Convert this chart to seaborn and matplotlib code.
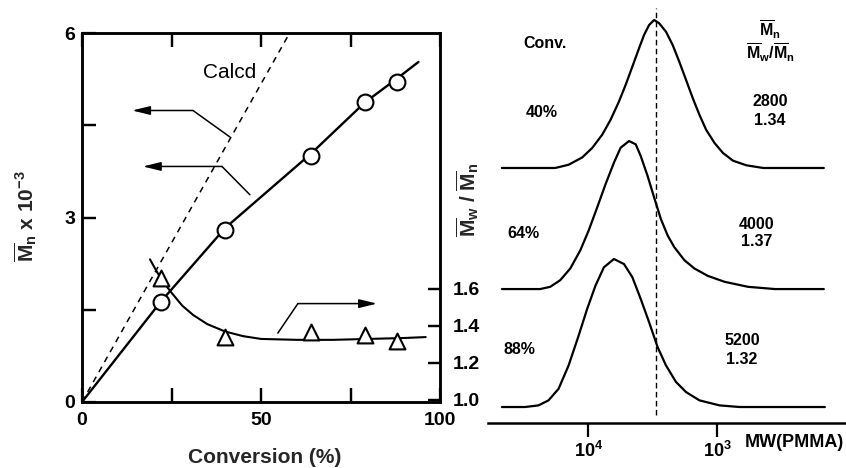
import numpy as np
import pandas as pd
import seaborn as sns
import matplotlib.pyplot as plt
from matplotlib.ticker import NullLocator

# ---------------- data ----------------
# Mn and Mw/Mn against monomer conversion
conv_pts = [22, 40, 64, 79, 88]
mn_pts = [1630, 2800, 4000, 4870, 5200]
pdi_pts = [1.66, 1.34, 1.37, 1.35, 1.32]

# drawn trend lines
mn_fit_conv = [0, 22, 40, 64, 79, 88, 94]
mn_fit = [0, 1630, 2830, 4040, 4870, 5260, 5530]
pdi_fit_conv = [19, 21, 23, 25, 28, 31, 35, 40, 45, 50, 60, 70, 80, 90, 96]
pdi_fit = [1.76, 1.69, 1.63, 1.58, 1.51, 1.46, 1.41, 1.37, 1.345, 1.33,
           1.325, 1.325, 1.33, 1.335, 1.34]

# calculated Mn line
calcd_conv = [0, 58]
calcd_mn = [0, 6000]

# axis ticks and labels
conv_ticks = [0, 25, 50, 75, 100]
conv_ticklabels = ["0", "", "50", "", "100"]
mn_ticks = [0, 1.5, 3, 4.5, 6]
mn_ticklabels = ["0", "", "3", "", "6"]
pdi_ticks = [1.0, 1.2, 1.4, 1.6]
pdi_ticklabels = ["1.0", "1.2", "1.4", "1.6"]
mw_ticks = [1e4, 1e3]
mw_ticklabels = [r"$10^4$", r"$10^3$"]

# GPC traces (log10 MW, normalised detector response)
gpc_conv = [40, 64, 88]
gpc_mn = [2800, 4000, 5200]
gpc_pdi = [1.34, 1.37, 1.32]

logmw_40 = [4.672, 4.258, 4.154, 4.049, 3.971, 3.893, 3.828, 3.763, 3.711, 3.659,
            3.607, 3.568, 3.529, 3.490, 3.451, 3.398, 3.346, 3.295, 3.242, 3.190,
            3.138, 3.086, 3.021, 2.955, 2.877, 2.773, 2.643, 2.172]
resp_40 = [0, 0, 0.022, 0.071, 0.135, 0.225, 0.326, 0.449, 0.562, 0.685,
           0.809, 0.899, 0.966, 1.0, 0.978, 0.921, 0.831, 0.719, 0.595, 0.472,
           0.359, 0.258, 0.169, 0.101, 0.049, 0.018, 0, 0]

logmw_64 = [4.672, 4.375, 4.297, 4.219, 4.141, 4.063, 3.998, 3.932, 3.867, 3.802,
            3.750, 3.685, 3.633, 3.594, 3.541, 3.490, 3.438, 3.385, 3.334, 3.255,
            3.177, 3.073, 2.943, 2.760, 2.552, 2.172]
resp_64 = [0, 0, 0.015, 0.060, 0.139, 0.262, 0.396, 0.552, 0.709, 0.854,
           0.955, 1.0, 0.978, 0.899, 0.765, 0.619, 0.474, 0.362, 0.284, 0.195,
           0.139, 0.089, 0.049, 0.015, 0, 0]

logmw_88 = [4.672, 4.492, 4.388, 4.310, 4.232, 4.154, 4.076, 4.010, 3.945, 3.880,
            3.802, 3.724, 3.659, 3.594, 3.529, 3.463, 3.398, 3.320, 3.242, 3.138,
            2.982, 2.826, 2.164]
resp_88 = [0, 0, 0.011, 0.045, 0.123, 0.281, 0.483, 0.663, 0.821, 0.944,
           1.0, 0.966, 0.877, 0.730, 0.573, 0.405, 0.281, 0.169, 0.101, 0.045,
           0.011, 0, 0]

ref_mw = 3000  # dashed reference line

# ---------------- style ----------------
sns.set_theme(style="ticks")
plt.rcParams["font.family"] = ["Liberation Sans", "DejaVu Sans"]
plt.rcParams["font.weight"] = "bold"
plt.rcParams["mathtext.fontset"] = "custom"
plt.rcParams["mathtext.rm"] = "Liberation Sans:bold"
plt.rcParams["mathtext.it"] = "Liberation Sans:bold"
plt.rcParams["mathtext.bf"] = "Liberation Sans:bold"
plt.rcParams["mathtext.sf"] = "Liberation Sans:bold"
plt.rcParams["xtick.color"] = "black"
plt.rcParams["ytick.color"] = "black"
plt.rcParams["text.color"] = "black"
plt.rcParams["axes.axisbelow"] = False

W, H = 846, 468
fig = plt.figure(figsize=(W / 100, H / 100), dpi=100)
ax = fig.add_axes([82 / W, 1 - 402 / H, 358 / W, 369 / H])
ax2 = ax.twinx()


def style_left_ticks():
    ax.tick_params(axis="x", which="major", direction="in", top=True, bottom=True,
                   length=10, width=1.6, labelsize=14, pad=7, color="black")
    ax.tick_params(axis="y", which="major", direction="in", left=True, right=False,
                   length=10, width=1.6, labelsize=14, pad=5, color="black")
    ax2.tick_params(axis="y", which="major", direction="in", right=True, left=False,
                    length=9, width=1.6, labelsize=14, pad=9, color="black")


ax.set_xlim(0, 100)
ax.set_ylim(0, 6)
ax.set_xticks(conv_ticks)
style_left_ticks()

# ---------------- left panel ----------------
sns.lineplot(x=mn_fit_conv, y=[v / 1000 for v in mn_fit], ax=ax, color="black",
             lw=1.7, estimator=None, sort=False, zorder=2)
sns.lineplot(x=calcd_conv, y=[v / 1000 for v in calcd_mn], ax=ax, color="black",
             lw=1.1, estimator=None, sort=False, zorder=2)
ax.lines[-1].set_linestyle((0, (4, 3.5)))
sns.scatterplot(x=conv_pts, y=[v / 1000 for v in mn_pts], ax=ax, marker="o", s=130,
                facecolor="white", edgecolor="black", linewidth=1.5, zorder=4)

sns.lineplot(x=pdi_fit_conv, y=pdi_fit, ax=ax2, color="black", lw=1.5,
             estimator=None, sort=False, zorder=2)
sns.scatterplot(x=conv_pts, y=pdi_pts, ax=ax2, marker="^", s=130, facecolor="white",
                edgecolor="black", linewidth=1.5, zorder=4)

ax.set_xlim(0, 100)
ax.set_ylim(0, 6)
ax.set_xticks(conv_ticks)
ax.set_xticklabels(conv_ticklabels)
ax.set_yticks(mn_ticks)
ax.set_yticklabels(mn_ticklabels)

ax2.set_ylim(0.989, 2.984)
ax2.set_yticks(pdi_ticks)
ax2.set_yticklabels(pdi_ticklabels)

for a in (ax, ax2):
    for sp in a.spines.values():
        sp.set_linewidth(1.8)
        sp.set_color("black")

# inward tick marks along the frame, placed at the tick positions
tick_kw = dict(colors="black", lw=1.6, clip_on=False, zorder=5)
xt = ax.get_xaxis_transform()
ax.vlines(conv_ticks[1:-1], 0, 0.038, transform=xt, **tick_kw)
ax.vlines(conv_ticks[1:-1], 0.962, 1, transform=xt, **tick_kw)
ax.hlines(mn_ticks[1:-1], 0, 0.039, transform=ax.get_yaxis_transform(), **tick_kw)
ax2.hlines(pdi_ticks, 0.966, 1, transform=ax2.get_yaxis_transform(), **tick_kw)

ax.set_xlabel("Conversion (%)", fontsize=15, fontweight="bold")
ax.xaxis.set_label_coords(0.511, -0.125)
ax.set_ylabel(r"$\overline{M}_n$ x 10$^{-3}$", fontsize=15, fontweight="bold")
ax.yaxis.set_label_coords(-0.12, 0.504)
ax2.set_ylabel(r"$\overline{M}_w$ / $\overline{M}_n$", fontsize=15, fontweight="bold")
ax2.yaxis.set_label_coords(1.042, 0.547)

ax.text(41.1, 5.35, "Calcd", ha="center", va="center", fontsize=15,
        fontweight="normal")

# elbow arrows pointing at the relevant axis
arrow_style = dict(arrowstyle="-|>,head_length=0.9,head_width=0.22",
                   color="black", lw=1.1, shrinkA=0, shrinkB=0)
for start, elbow, head in [((41.3, 4.31), (31.0, 4.74), (14.0, 4.74)),
                           ((46.9, 3.37), (39.1, 3.83), (17.0, 3.83)),
                           ((54.7, 1.12), (60.3, 1.60), (82.4, 1.60))]:
    ax.plot([start[0], elbow[0]], [start[1], elbow[1]], color="black", lw=1.1)
    ax.annotate("", xy=head, xytext=elbow, arrowprops=arrow_style)
style_left_ticks()

# ---------------- right panel: GPC traces ----------------
axr = fig.add_axes([488 / W, 1 - 423 / H, 358 / W, 423 / H])
axr.set_xscale("log")
offsets = [1.615, 0.797, 0.0]
for lm, rs, off in zip([logmw_40, logmw_64, logmw_88],
                       [resp_40, resp_64, resp_88], offsets):
    df = pd.DataFrame({"mw": np.power(10.0, lm), "r": np.array(rs) + off})
    sns.lineplot(data=df, x="mw", y="r", ax=axr, color="black", lw=1.6,
                 estimator=None, sort=False)

axr.vlines(ref_mw, -0.054, 2.696, colors="black", lw=1.0,
           linestyles=[(0, (4, 2.5))])

axr.set_xlim(10 ** 4.78, 10 ** 2.0)
axr.set_ylim(-0.108, 2.75)
axr.set_xticks(mw_ticks)
axr.set_xticklabels(mw_ticklabels)
axr.xaxis.set_minor_locator(NullLocator())
axr.set_yticks([])
axr.set_xlabel("")
axr.set_ylabel("")
for name, sp in axr.spines.items():
    sp.set_visible(name == "bottom")
axr.spines["bottom"].set_linewidth(1.8)
axr.spines["bottom"].set_color("black")
axr.patch.set_alpha(0)

axr.text(0.857, -0.047, "MW(PMMA)", transform=axr.transAxes, ha="center",
         va="center", fontsize=13, fontweight="bold", clip_on=False)

txt = dict(transform=axr.transAxes, ha="center", va="center", fontsize=11.5,
           fontweight="bold")
axr.text(0.159, 0.896, "Conv.", **txt)
axr.text(0.788, 0.929, r"$\overline{M}_n$", **txt)
axr.text(0.788, 0.875, r"$\overline{M}_w$/$\overline{M}_n$", **txt)

conv_pos = [(0.151, 0.735), (0.098, 0.449), (0.089, 0.173)]
val_pos = [(0.788, 0.761, 0.716), (0.751, 0.470, 0.428), (0.709, 0.194, 0.151)]
for c, m, p, cp, vp in zip(gpc_conv, gpc_mn, gpc_pdi, conv_pos, val_pos):
    axr.text(cp[0], cp[1], f"{c}%", **txt)
    axr.text(vp[0], vp[1], f"{m}", **txt)
    axr.text(vp[0], vp[2], f"{p:.2f}", **txt)

axr.tick_params(axis="x", which="major", direction="out", bottom=True, top=False,
                length=10, width=1.6, labelsize=13, pad=3, color="black")
axr.tick_params(axis="y", left=False, right=False)
style_left_ticks()
fig.savefig("out.png", dpi=100)
